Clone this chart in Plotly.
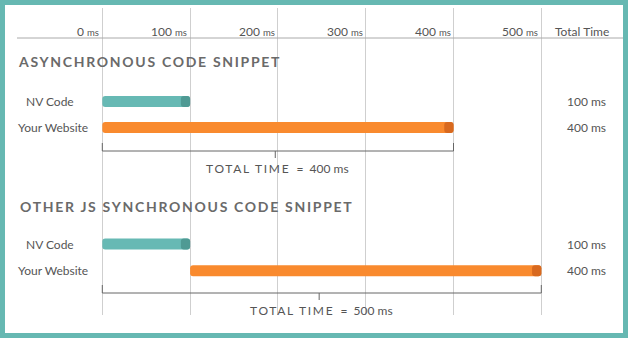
import plotly.graph_objects as go

# ---------------- data ----------------
section_titles = ["ASYNCHRONOUS CODE SNIPPET", "OTHER JS SYNCHRONOUS CODE SNIPPET"]
row_labels = ["NV Code", "Your Website"]
async_starts = [0, 0]
async_durations = [100, 400]
sync_starts = [0, 100]
sync_durations = [100, 400]
tick_values = [0, 100, 200, 300, 400, 500]
unit = "ms"
total_header = "Total Time"
total_label = "TOTAL TIME"

# ---------------- styles / layout ----------------
W, H = 628, 338
FONT = "Lato"
TEAL = "#67b9b4"
TEAL_DARK = "#4f9a94"
ORANGE = "#f98a2e"
ORANGE_DARK = "#d8691f"
TEXT = "#555555"
TITLE = "#6a6a6a"
GRID = "#cfcfcf"
CAP_MS = 10.5

sections = [
    dict(title=section_titles[0], starts=async_starts, durs=async_durations,
         title_y=61, row_y=[101.5, 127.5], bracket_y=151, label_y=168, title_x=16),
    dict(title=section_titles[1], starts=sync_starts, durs=sync_durations,
         title_y=206, row_y=[244, 270.7], bracket_y=293, label_y=310, title_x=18),
]
label_x = [23.5, 16]
bar_colors = [TEAL, ORANGE]
cap_colors = [TEAL_DARK, ORANGE_DARK]

fig = go.Figure()

ys, bases, lens, cols, cap_bases, cap_cols = [], [], [], [], [], []
for sec in sections:
    for i in range(len(row_labels)):
        s, d = sec["starts"][i], sec["durs"][i]
        ys.append(sec["row_y"][i])
        bases.append(s)
        lens.append(d)
        cols.append(bar_colors[i])
        cap_bases.append(s + d - CAP_MS)
        cap_cols.append(cap_colors[i])

fig.add_trace(go.Bar(orientation="h", y=ys, x=lens, base=bases, width=11,
                     marker=dict(color=cols, line=dict(width=0)), hoverinfo="skip"))
fig.add_trace(go.Bar(orientation="h", y=ys, x=[CAP_MS] * len(ys), base=cap_bases, width=11,
                     marker=dict(color=cap_cols, line=dict(width=0)), hoverinfo="skip"))

annotations = []
shapes = []

# tick labels
for v in tick_values:
    annotations.append(dict(
        x=v, xref="x", y=31, yref="y", xanchor="right", yanchor="middle", xshift=-1,
        text=f"{v} <span style='font-size:9.5px'>{unit}</span>", showarrow=False,
        font=dict(family=FONT, size=12, color=TEXT)))
annotations.append(dict(
    x=582 / W, xref="paper", y=31, yref="y", xanchor="center", yanchor="middle",
    text=total_header, showarrow=False, font=dict(family=FONT, size=12, color=TEXT)))

# header line
shapes.append(dict(type="line", xref="paper", yref="y", x0=17 / W, x1=1, y0=38, y1=38,
                   line=dict(color="#aaaaaa", width=1)))

for sec in sections:
    annotations.append(dict(
        x=sec["title_x"] / W, xref="paper", y=sec["title_y"], yref="y",
        xanchor="left", yanchor="middle", showarrow=False,
        text=f"<span style='letter-spacing:1.7px'>{sec['title']}</span>",
        font=dict(family=FONT, size=14, color=TITLE, weight=700)))
    for i, lab in enumerate(row_labels):
        annotations.append(dict(
            x=label_x[i] / W, xref="paper", y=sec["row_y"][i], yref="y",
            xanchor="left", yanchor="middle", text=lab, showarrow=False,
            font=dict(family=FONT, size=12, color=TEXT)))
        annotations.append(dict(
            x=586 / W, xref="paper", y=sec["row_y"][i], yref="y",
            xanchor="center", yanchor="middle", text=f"{sec['durs'][i]} {unit}",
            showarrow=False, font=dict(family=FONT, size=12, color=TEXT)))
    total = max(s + d for s, d in zip(sec["starts"], sec["durs"]))
    by = sec["bracket_y"]
    lc = dict(color="#666666", width=1)
    shapes.append(dict(type="line", xref="x", yref="y", x0=0, x1=total, y0=by, y1=by, line=lc))
    shapes.append(dict(type="line", xref="x", yref="y", x0=0, x1=0, y0=by - 8, y1=by, line=lc))
    shapes.append(dict(type="line", xref="x", yref="y", x0=total, x1=total, y0=by - 8, y1=by, line=lc))
    shapes.append(dict(type="line", xref="x", yref="y", x0=total / 2 - 3, x1=total / 2 - 3,
                       y0=by, y1=by + 7, line=lc))
    annotations.append(dict(
        x=total / 2, xref="x", y=sec["label_y"], yref="y", xanchor="center", yanchor="middle",
        showarrow=False,
        text=f"<span style='letter-spacing:1.7px'>{total_label}</span>\u00a0 =\u00a0 {total} {unit}",
        font=dict(family=FONT, size=12, color=TEXT)))

# teal frame
shapes.append(dict(type="rect", xref="paper", yref="paper", x0=0, x1=1, y0=0, y1=1,
                   line=dict(color="#66b8b2", width=10), layer="above"))

px0, px500 = 102.3, 541.3
ppm = (px500 - px0) / 500.0
xr = [-px0 / ppm, (W - px0) / ppm]

fig.update_layout(
    width=W, height=H, margin=dict(l=0, r=0, t=0, b=0),
    paper_bgcolor="white", plot_bgcolor="rgba(0,0,0,0)",
    showlegend=False, barmode="overlay", barcornerradius=3,
    font=dict(family=FONT),
    xaxis=dict(range=xr, domain=[0, 1], tickvals=tick_values, showticklabels=False,
               showgrid=True, gridcolor=GRID, gridwidth=1, zeroline=False,
               showline=False, ticks="", fixedrange=True),
    yaxis=dict(range=[315, 8], domain=[1 - 315 / H, 1 - 8 / H], showgrid=False,
               showticklabels=False, zeroline=False, showline=False, ticks="",
               fixedrange=True),
    annotations=annotations, shapes=shapes,
)

fig.write_html("out.html", config={"displayModeBar": False})
